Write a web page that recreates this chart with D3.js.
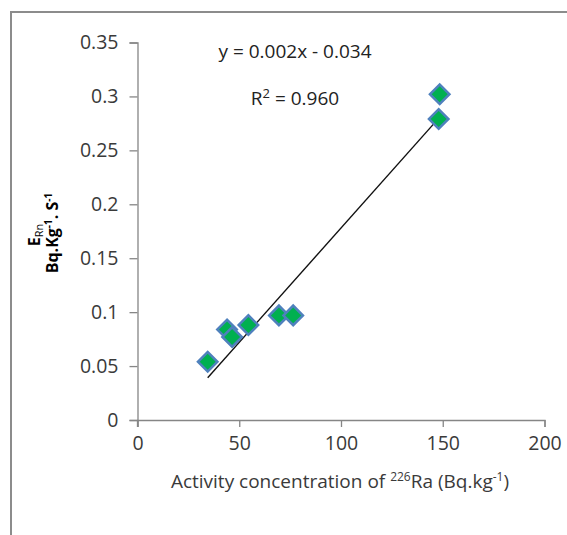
<!DOCTYPE html>
<html>
<head>
<meta charset="utf-8">
<script src="https://cdn.jsdelivr.net/npm/d3@7"></script>
<style>
  html, body { margin: 0; padding: 0; background: #fff; }
  svg { display: block; }
  text { font-family: "Open Sans", "Liberation Sans", sans-serif; }
</style>
</head>
<body>
<svg id="chart" width="567" height="535"></svg>
<script>
// Radium activity (Bq/kg) vs radon exhalation rate E_Rn
const activity = [34.5, 44, 46.5, 54.5, 69.5, 76.5, 148.5, 148];
const exhalation = [0.054, 0.084, 0.077, 0.088, 0.097, 0.097, 0.302, 0.279];
const xTicks = [0, 50, 100, 150, 200];
const yTicks = [0, 0.05, 0.1, 0.15, 0.2, 0.25, 0.3, 0.35];
// linear trend line: slope and intercept; R squared
const trendSlope = 0.00212;
const trendIntercept = -0.034;
const rSquared = 0.960;

const svg = d3.select("#chart");

// outer chart frame
svg.append("rect")
  .attr("x", 11).attr("y", 12)
  .attr("width", 700).attr("height", 700)
  .attr("fill", "none")
  .attr("stroke", "#8c8c8c")
  .attr("stroke-width", 2);

const x = d3.scaleLinear().domain([0, 200]).range([137.5, 544.5]);
const y = d3.scaleLinear().domain([0, 0.35]).range([420, 42.5]);

const axisColor = "#868686";
const labelColor = "#3a3a3a";

const xAxis = svg.append("g")
  .attr("transform", `translate(0,${y(0)})`)
  .call(d3.axisBottom(x).tickValues(xTicks).tickSize(7).tickPadding(9).tickFormat(d3.format("d")));
const yAxis = svg.append("g")
  .attr("transform", `translate(${x(0)},0)`)
  .call(d3.axisLeft(y).tickValues(yTicks).tickSize(8).tickPadding(11).tickFormat(d => d === 0 ? "0" : String(+d.toFixed(2))));

[xAxis, yAxis].forEach(g => {
  g.select(".domain").attr("stroke", axisColor).attr("stroke-width", 1.3);
  g.selectAll(".tick line").attr("stroke", axisColor).attr("stroke-width", 1.3);
  g.selectAll(".tick text")
    .attr("fill", labelColor)
    .style("font-size", "19.5px")
    .style("font-family", "'Open Sans', sans-serif");
});
// short tick below the axis corner
svg.append("line")
  .attr("x1", x(0)).attr("x2", x(0))
  .attr("y1", y(0)).attr("y2", y(0) + 7)
  .attr("stroke", axisColor).attr("stroke-width", 1.3);

// trend line across the data range
const [xmin, xmax] = d3.extent(activity);
svg.append("line")
  .attr("x1", x(xmin)).attr("y1", y(trendSlope * xmin + trendIntercept))
  .attr("x2", x(xmax)).attr("y2", y(trendSlope * xmax + trendIntercept))
  .attr("stroke", "#111")
  .attr("stroke-width", 1.4);

// diamond markers
const diamond = d3.symbol().type(d3.symbolSquare).size(190);
svg.append("g").selectAll("path")
  .data(activity.map((a, i) => [a, exhalation[i]]))
  .join("path")
  .attr("d", diamond)
  .attr("transform", d => `translate(${x(d[0])},${y(d[1])}) rotate(45)`)
  .attr("fill", "#00b050")
  .attr("stroke", "#4f81bd")
  .attr("stroke-width", 2.5)
  .attr("stroke-linejoin", "miter");

// trend line equation and R squared
svg.append("text")
  .attr("x", 295).attr("y", 58)
  .attr("text-anchor", "middle")
  .attr("fill", "#222")
  .style("font-size", "19px")
  .text(`y = ${trendSlope.toFixed(3)}x - ${Math.abs(trendIntercept).toFixed(3)}`);

const r2 = svg.append("text")
  .attr("x", 295).attr("y", 105)
  .attr("text-anchor", "middle")
  .attr("fill", "#222")
  .style("font-size", "19px");
r2.append("tspan").text("R");
r2.append("tspan").attr("dy", -7).style("font-size", "13px").text("2");
r2.append("tspan").attr("dy", 7).text(` = ${rSquared.toFixed(3)}`);

// x axis title
const xt = svg.append("text")
  .attr("x", 340).attr("y", 488)
  .attr("text-anchor", "middle")
  .attr("fill", labelColor)
  .style("font-size", "19px");
xt.append("tspan").text("Activity concentration of ");
xt.append("tspan").attr("dy", -7).style("font-size", "12px").text("226");
xt.append("tspan").attr("dy", 7).text("Ra (Bq.kg");
xt.append("tspan").attr("dy", -7).style("font-size", "12px").text("-1");
xt.append("tspan").attr("dy", 7).text(")");

// y axis title, two rotated lines
const yt1 = svg.append("text")
  .attr("transform", "translate(40,235) rotate(-90)")
  .attr("text-anchor", "middle")
  .attr("fill", "#000")
  .style("font-size", "16px")
  .style("font-weight", "bold");
yt1.append("tspan").text("E");
yt1.append("tspan").attr("dy", 3).style("font-size", "11px").style("font-weight", "normal").text("Rn");

const yt2 = svg.append("text")
  .attr("transform", "translate(58,233) rotate(-90)")
  .attr("text-anchor", "middle")
  .attr("fill", "#000")
  .style("font-size", "16px")
  .style("font-weight", "bold");
yt2.append("tspan").text("Bq.Kg");
yt2.append("tspan").attr("dy", -6).style("font-size", "10px").text("-1");
yt2.append("tspan").attr("dy", 6).text(". S");
yt2.append("tspan").attr("dy", -6).style("font-size", "10px").text("-1");
</script>
</body>
</html>
